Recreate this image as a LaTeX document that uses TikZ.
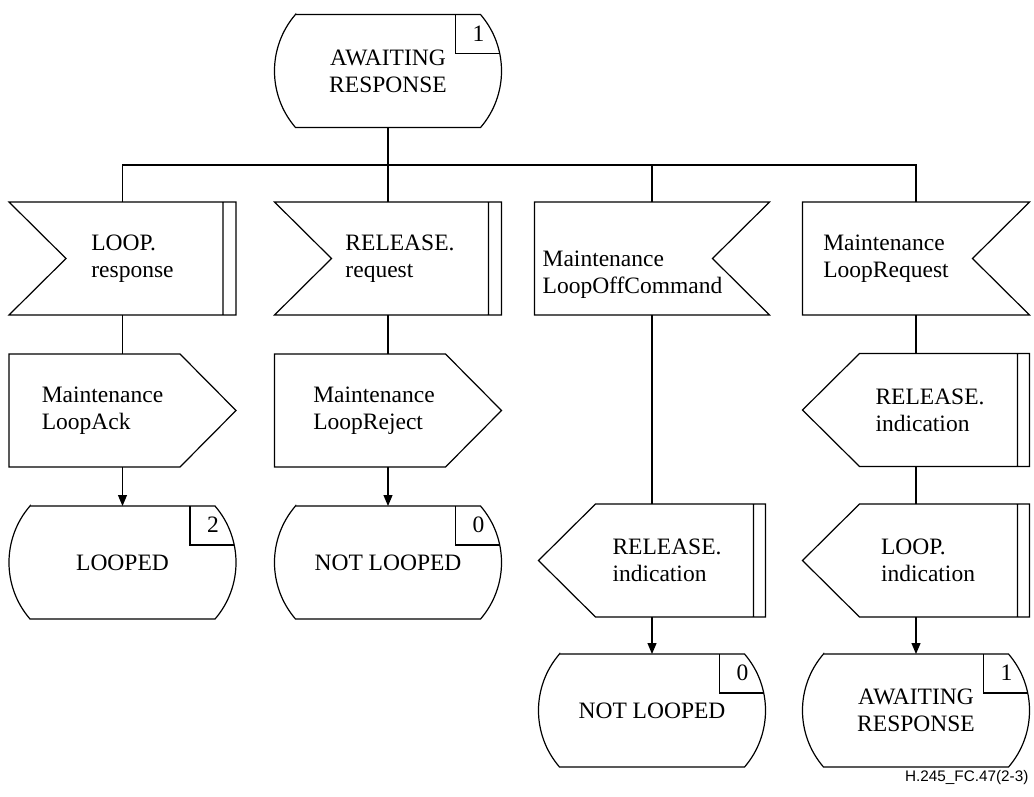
\documentclass[tikz,border=0pt]{standalone}
\usepackage{fontspec}
\setmainfont{Liberation Serif}
\newfontfamily\tagfont{Liberation Sans}
\usetikzlibrary{arrows.meta}
\newcommand\sdlfont{\fontsize{23.5}{27}\selectfont}

\begin{document}
\begin{tikzpicture}[x=1pt,y=1pt,line width=1.2pt,
    >={Triangle[length=11pt,width=9pt]},
    box/.style={minimum width=227, minimum height=113, inner sep=0, outer sep=0, font=\sdlfont},
    state/.style={box, align=center},
    every label/.style={align=left, inner sep=0, font=\sdlfont}]
  \useasboundingbox (0,0) rectangle (1034,-796);

  % states
  \node[state] (s0) at (388,-71) {AWAITING\\RESPONSE};
  \node[state] (s1) at (122.5,-562.5) {LOOPED};
  \node[state] (s2) at (388,-562.5) {NOT LOOPED};
  \node[state] (s3) at (652,-710.5) {NOT LOOPED};
  \node[state] (s4) at (916,-710.5) {AWAITING\\RESPONSE};

  % signals
  \node[box, label={[xshift=10]center:{LOOP.\\response}}] (in1) at (122.5,-258.5) {};
  \node[box, label={[xshift=12]center:{RELEASE.\\request}}] (in2) at (388,-258.5) {};
  \node[box, minimum width=235, label={[xshift=-19.5,yshift=-16]center:{Maintenance\\LoopOffCommand}}] (in3) at (652,-258.5) {};
  \node[box, label={[xshift=-30]center:{Maintenance\\LoopRequest}}] (in4) at (916,-258.5) {};
  \node[box, label={[xshift=-20]center:{Maintenance\\LoopAck}}] (out1) at (122.5,-410.5) {};
  \node[box, label={[xshift=-14]center:{Maintenance\\LoopReject}}] (out2) at (388,-410.5) {};
  \node[box, label={[xshift=14]center:{RELEASE.\\indication}}] (rel4) at (916,-410) {};
  \node[box, label={[xshift=15]center:{RELEASE.\\indication}}] (rel3) at (652,-560.5) {};
  \node[box, label={[xshift=12]center:{LOOP.\\indication}}] (loop4) at (916,-560.5) {};

  % outlines
  \foreach \n in {s0,s1,s2,s3,s4}
    \draw ([xshift=21]\n.north west) -- ([xshift=-21]\n.north east)
      arc[start angle=40.8, end angle=-40.8, radius=86.5] -- ([xshift=21]\n.south west)
      arc[start angle=220.8, end angle=139.2, radius=86.5] -- cycle;
  \foreach \n/\k in {s0/1,s1/2,s2/0,s3/0,s4/1} {
    \draw ([xshift=-46]\n.north east) |- ([xshift=-1.8,yshift=-39]\n.north east);
    \node[font=\sdlfont] (\n-k) at ([xshift=-23,yshift=-19]\n.north east) {\k};
  }
  \foreach \n in {in1,in2}
    \draw (\n.north west) -- (\n.north east) -- (\n.south east) -- (\n.south west)
      -- ([xshift=57]\n.west) -- cycle
      ([xshift=-13]\n.north east) -- ([xshift=-13]\n.south east);
  \foreach \n in {in3,in4}
    \draw (\n.north west) -- (\n.north east) -- ([xshift=-57]\n.east)
      -- (\n.south east) -- (\n.south west) -- cycle;
  \foreach \n in {out1,out2}
    \draw (\n.north west) -- ([xshift=-56]\n.north east) -- (\n.east)
      -- ([xshift=-56]\n.south east) -- (\n.south west) -- cycle;
  \foreach \n in {rel3,rel4,loop4}
    \draw (\n.west) -- ([xshift=57]\n.north west) -- (\n.north east) -- (\n.south east)
      -- ([xshift=57]\n.south west) -- cycle
      ([xshift=-12]\n.north east) -- ([xshift=-12]\n.south east);

  % connectors
  \coordinate (bus) at (388,-165);
  \draw (s0.south) -- (in2.north);
  \draw (in1.north) |- (bus) -| (in4.north);
  \draw (in3.north) -- (in3.north |- bus);
  \draw (in1.south) -- (out1.north);
  \draw[->] (out1.south) -- (s1.north);
  \draw (in2.south) -- (out2.north);
  \draw[->] (out2.south) -- (s2.north);
  \draw (in3.south) -- (rel3.north);
  \draw[->] (rel3.south) -- (s3.north);
  \draw (in4.south) -- (rel4.north);
  \draw (rel4.south) -- (loop4.north);
  \draw[->] (loop4.south) -- (s4.north);

  \node[font=\tagfont\fontsize{15.3}{18}\selectfont, anchor=base east, inner sep=0] (tag)
    at (1029,-781) {H.245\_FC.47(2-3)};
\end{tikzpicture}
\end{document}
